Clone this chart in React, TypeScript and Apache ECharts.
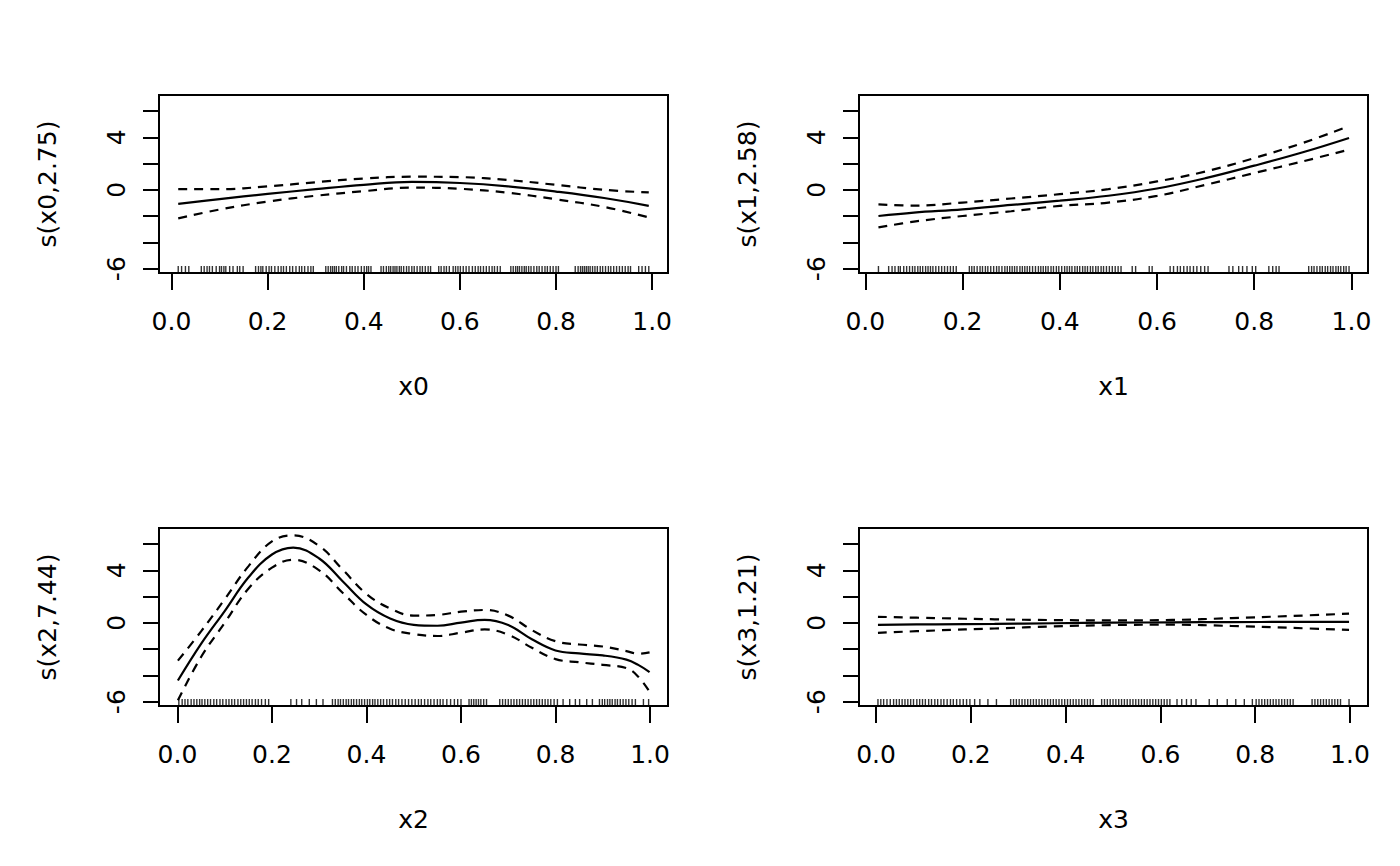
import React, { useEffect, useRef } from 'react';
import * as echarts from 'echarts';

// axis ticks shared by the four panels
const xTicks = [0, 0.2, 0.4, 0.6, 0.8, 1.0];
const yTicks = [-6, -4, -2, 0, 2, 4, 6];
const yTickLabels = [-6, 0, 4];
const yRange = [-6.33, 7.22];

const xNames = ['x0', 'x1', 'x2', 'x3'];
const yNames = ['s(x0,2.75)', 's(x1,2.58)', 's(x2,7.44)', 's(x3,1.21)'];
const xRanges = [
  [-0.026, 1.033],
  [-0.013, 1.034],
  [-0.039, 1.038],
  [-0.036, 1.038],
];

// s(x0)
const x0Grid = [0.014, 0.1, 0.2, 0.3, 0.4, 0.5, 0.6, 0.7, 0.8, 0.9, 0.993];
const x0Fit = [-1.07, -0.7, -0.31, 0.05, 0.38, 0.6, 0.52, 0.27, -0.13, -0.62, -1.22];
const x0Upper = [0.05, 0.05, 0.26, 0.58, 0.86, 1.0, 0.97, 0.75, 0.38, 0.0, -0.2];
const x0Lower = [-2.17, -1.5, -0.89, -0.45, -0.1, 0.17, 0.08, -0.22, -0.72, -1.3, -2.1];

// s(x1)
const x1Grid = [0.027, 0.1, 0.2, 0.3, 0.4, 0.5, 0.6, 0.7, 0.8, 0.9, 0.995];
const x1Fit = [-1.99, -1.73, -1.48, -1.15, -0.82, -0.45, 0.1, 0.89, 1.84, 2.86, 3.95];
const x1Upper = [-1.1, -1.2, -0.97, -0.66, -0.33, 0.05, 0.64, 1.4, 2.42, 3.57, 4.85];
const x1Lower = [-2.86, -2.42, -1.99, -1.63, -1.22, -0.97, -0.46, 0.38, 1.28, 2.17, 3.06];

// s(x2)
const x2Grid = [0.001, 0.05, 0.1, 0.15, 0.2, 0.245, 0.3, 0.35, 0.4, 0.45, 0.5, 0.55, 0.6, 0.65, 0.7, 0.75, 0.8, 0.85, 0.9, 0.95, 0.975, 0.999];
const x2Fit = [-4.39, -1.6, 0.9, 3.45, 5.2, 5.73, 4.9, 3.15, 1.4, 0.33, -0.15, -0.22, 0.02, 0.22, -0.17, -1.25, -2.1, -2.33, -2.48, -2.8, -3.2, -3.75];
const x2Upper = [-2.88, -0.65, 1.8, 4.3, 6.2, 6.66, 5.85, 4.04, 2.2, 1.1, 0.55, 0.6, 0.85, 0.98, 0.55, -0.55, -1.4, -1.65, -1.8, -2.15, -2.35, -2.25];
const x2Lower = [-5.9, -2.6, 0.0, 2.6, 4.2, 4.8, 4.0, 2.27, 0.6, -0.45, -0.85, -1.0, -0.75, -0.5, -0.9, -1.9, -2.76, -3.0, -3.2, -3.45, -4.1, -5.25];

// s(x3)
const x3Grid = [0.004, 0.125, 0.25, 0.375, 0.5, 0.625, 0.75, 0.875, 0.998];
const x3Fit = [-0.15, -0.11, -0.08, -0.03, 0.01, 0.04, 0.06, 0.07, 0.08];
const x3Upper = [0.46, 0.36, 0.27, 0.21, 0.19, 0.22, 0.36, 0.52, 0.7];
const x3Lower = [-0.76, -0.58, -0.43, -0.27, -0.17, -0.14, -0.24, -0.38, -0.54];

// rug (observed covariate values)
const x0Rug = [0.014, 0.021, 0.029, 0.036, 0.062, 0.068, 0.074, 0.079, 0.085, 0.093, 0.1, 0.104, 0.109, 0.113, 0.121, 0.128, 0.137, 0.142, 0.149, 0.175, 0.181, 0.186, 0.19, 0.197, 0.203, 0.208, 0.215, 0.222, 0.228, 0.233, 0.239, 0.246, 0.252, 0.259, 0.266, 0.271, 0.277, 0.284, 0.29, 0.295, 0.321, 0.326, 0.331, 0.335, 0.339, 0.343, 0.348, 0.354, 0.358, 0.364, 0.371, 0.376, 0.382, 0.388, 0.395, 0.401, 0.406, 0.41, 0.415, 0.436, 0.441, 0.447, 0.452, 0.456, 0.461, 0.465, 0.469, 0.474, 0.478, 0.483, 0.489, 0.494, 0.5, 0.505, 0.511, 0.517, 0.522, 0.528, 0.534, 0.539, 0.556, 0.561, 0.567, 0.572, 0.578, 0.586, 0.591, 0.596, 0.601, 0.607, 0.613, 0.619, 0.626, 0.632, 0.638, 0.643, 0.649, 0.655, 0.661, 0.667, 0.672, 0.678, 0.684, 0.706, 0.711, 0.716, 0.72, 0.724, 0.729, 0.734, 0.738, 0.743, 0.748, 0.754, 0.76, 0.765, 0.771, 0.777, 0.782, 0.788, 0.794, 0.8, 0.805, 0.84, 0.846, 0.851, 0.855, 0.859, 0.863, 0.867, 0.871, 0.876, 0.881, 0.886, 0.892, 0.897, 0.903, 0.909, 0.914, 0.92, 0.926, 0.932, 0.938, 0.944, 0.95, 0.955, 0.972, 0.979, 0.986, 0.993];
const x1Rug = [0.027, 0.048, 0.055, 0.061, 0.068, 0.072, 0.079, 0.085, 0.091, 0.097, 0.102, 0.108, 0.113, 0.118, 0.124, 0.129, 0.134, 0.139, 0.145, 0.151, 0.157, 0.163, 0.169, 0.175, 0.181, 0.187, 0.214, 0.219, 0.224, 0.23, 0.236, 0.241, 0.247, 0.252, 0.258, 0.264, 0.27, 0.275, 0.281, 0.287, 0.292, 0.297, 0.302, 0.307, 0.312, 0.318, 0.323, 0.328, 0.333, 0.338, 0.344, 0.35, 0.356, 0.361, 0.366, 0.371, 0.376, 0.382, 0.387, 0.393, 0.398, 0.404, 0.41, 0.415, 0.42, 0.425, 0.431, 0.436, 0.441, 0.447, 0.452, 0.457, 0.463, 0.468, 0.474, 0.479, 0.485, 0.49, 0.496, 0.502, 0.508, 0.514, 0.52, 0.526, 0.549, 0.556, 0.584, 0.59, 0.627, 0.634, 0.642, 0.648, 0.655, 0.662, 0.668, 0.675, 0.682, 0.69, 0.698, 0.705, 0.748, 0.756, 0.768, 0.776, 0.785, 0.796, 0.803, 0.83, 0.838, 0.845, 0.851, 0.912, 0.918, 0.923, 0.929, 0.935, 0.94, 0.946, 0.951, 0.957, 0.962, 0.968, 0.973, 0.978, 0.984, 0.989, 0.995];
const x2Rug = [0.003, 0.01, 0.016, 0.022, 0.029, 0.035, 0.041, 0.047, 0.052, 0.058, 0.064, 0.07, 0.077, 0.083, 0.09, 0.096, 0.103, 0.109, 0.115, 0.121, 0.128, 0.134, 0.14, 0.146, 0.152, 0.158, 0.165, 0.171, 0.178, 0.186, 0.193, 0.24, 0.252, 0.263, 0.279, 0.294, 0.308, 0.328, 0.334, 0.34, 0.345, 0.351, 0.357, 0.362, 0.368, 0.373, 0.379, 0.385, 0.39, 0.396, 0.402, 0.407, 0.413, 0.418, 0.424, 0.43, 0.436, 0.443, 0.449, 0.455, 0.462, 0.468, 0.475, 0.482, 0.489, 0.496, 0.503, 0.51, 0.516, 0.523, 0.53, 0.536, 0.543, 0.55, 0.556, 0.562, 0.57, 0.578, 0.586, 0.593, 0.6, 0.617, 0.622, 0.627, 0.632, 0.637, 0.642, 0.648, 0.654, 0.682, 0.688, 0.694, 0.7, 0.706, 0.712, 0.718, 0.724, 0.73, 0.736, 0.742, 0.748, 0.754, 0.76, 0.766, 0.772, 0.778, 0.784, 0.79, 0.797, 0.804, 0.816, 0.83, 0.842, 0.851, 0.866, 0.878, 0.893, 0.899, 0.904, 0.91, 0.915, 0.92, 0.926, 0.931, 0.937, 0.943, 0.949, 0.955, 0.962, 0.969, 0.986, 0.997];
const x3Rug = [0.004, 0.01, 0.016, 0.023, 0.03, 0.037, 0.043, 0.049, 0.055, 0.061, 0.067, 0.073, 0.079, 0.086, 0.092, 0.098, 0.104, 0.111, 0.117, 0.124, 0.13, 0.137, 0.143, 0.15, 0.157, 0.163, 0.17, 0.177, 0.184, 0.191, 0.198, 0.208, 0.219, 0.236, 0.254, 0.284, 0.29, 0.296, 0.302, 0.308, 0.314, 0.32, 0.326, 0.332, 0.338, 0.344, 0.35, 0.356, 0.362, 0.368, 0.374, 0.38, 0.386, 0.392, 0.398, 0.404, 0.41, 0.416, 0.422, 0.428, 0.434, 0.44, 0.446, 0.452, 0.458, 0.476, 0.482, 0.488, 0.494, 0.5, 0.506, 0.512, 0.518, 0.524, 0.53, 0.536, 0.542, 0.548, 0.554, 0.56, 0.566, 0.572, 0.578, 0.584, 0.59, 0.596, 0.602, 0.608, 0.614, 0.62, 0.635, 0.645, 0.655, 0.665, 0.675, 0.703, 0.72, 0.741, 0.759, 0.777, 0.794, 0.802, 0.808, 0.814, 0.82, 0.826, 0.832, 0.838, 0.844, 0.85, 0.856, 0.862, 0.868, 0.874, 0.88, 0.92, 0.926, 0.932, 0.938, 0.944, 0.95, 0.956, 0.962, 0.968, 0.974, 0.98, 0.998];

const panels = [
  { grid: x0Grid, fit: x0Fit, upper: x0Upper, lower: x0Lower, rug: x0Rug },
  { grid: x1Grid, fit: x1Fit, upper: x1Upper, lower: x1Lower, rug: x1Rug },
  { grid: x2Grid, fit: x2Fit, upper: x2Upper, lower: x2Lower, rug: x2Rug },
  { grid: x3Grid, fit: x3Fit, upper: x3Upper, lower: x3Lower, rug: x3Rug },
];

const boxes = [
  { left: 159, top: 95 },
  { left: 859, top: 95 },
  { left: 159, top: 528 },
  { left: 859, top: 528 },
];

const FONT = 'DejaVu Sans';

const App: React.FC = () => {
  const chartRef = useRef<HTMLDivElement>(null);

  useEffect(() => {
    if (!chartRef.current) return;
    const chart = echarts.init(chartRef.current, undefined, { renderer: 'svg' });

    const textStyle = { color: '#000', fontFamily: FONT, fontSize: 25 };

    const grids = boxes.map(b => ({
      left: b.left,
      top: b.top,
      width: 509,
      height: 178,
      show: true,
      borderColor: '#000',
      borderWidth: 2,
      backgroundColor: 'transparent',
    }));

    const xAxes = panels.map((_, i) => ({
      type: 'value',
      gridIndex: i,
      min: xRanges[i][0],
      max: xRanges[i][1],
      name: xNames[i],
      nameLocation: 'middle',
      nameGap: 101,
      nameTextStyle: textStyle,
      axisLine: { show: false, onZero: false },
      splitLine: { show: false },
      axisTick: {
        show: true,
        length: 17,
        customValues: xTicks,
        lineStyle: { color: '#000', width: 2 },
      },
      axisLabel: {
        ...textStyle,
        margin: 36,
        customValues: xTicks,
        formatter: (v: number) => v.toFixed(1),
      },
    }));

    const yAxes = panels.map((_, i) => ({
      type: 'value',
      gridIndex: i,
      min: yRange[0],
      max: yRange[1],
      name: yNames[i],
      nameLocation: 'middle',
      nameGap: 99,
      nameTextStyle: textStyle,
      axisLine: { show: false, onZero: false },
      splitLine: { show: false },
      axisTick: {
        show: true,
        length: 16,
        customValues: yTicks,
        lineStyle: { color: '#000', width: 2 },
      },
      axisLabel: {
        ...textStyle,
        margin: 30,
        rotate: 90,
        customValues: yTickLabels,
        formatter: (v: number) => String(v),
      },
    }));

    const series: any[] = [];
    panels.forEach((p, i) => {
      const mk = (vals: number[], dashed: boolean) => ({
        type: 'line',
        xAxisIndex: i,
        yAxisIndex: i,
        data: p.grid.map((x, k) => [x, vals[k]]),
        smooth: 0.4,
        showSymbol: false,
        symbol: 'none',
        silent: true,
        lineStyle: { color: '#000', width: 2.2, type: dashed ? [9, 7] : 'solid' },
      });
      series.push(mk(p.fit, false));
      series.push(mk(p.upper, true));
      series.push(mk(p.lower, true));
      series.push({
        type: 'scatter',
        xAxisIndex: i,
        yAxisIndex: i,
        data: p.rug.map(x => [x, yRange[0]]),
        symbol: 'rect',
        symbolSize: [1.4, 7],
        symbolOffset: [0, -3.5],
        clip: false,
        silent: true,
        itemStyle: { color: '#000' },
      });
    });

    chart.setOption({
      animation: false,
      backgroundColor: '#fff',
      grid: grids,
      xAxis: xAxes,
      yAxis: yAxes,
      series,
    });

    const handleResize = () => chart.resize();
    window.addEventListener('resize', handleResize);
    return () => {
      window.removeEventListener('resize', handleResize);
      chart.dispose();
    };
  }, []);

  return (
    <div
      ref={chartRef}
      style={{ position: 'fixed', left: 0, top: 0, width: 1400, height: 866, background: '#fff' }}
    />
  );
};

export default App;
